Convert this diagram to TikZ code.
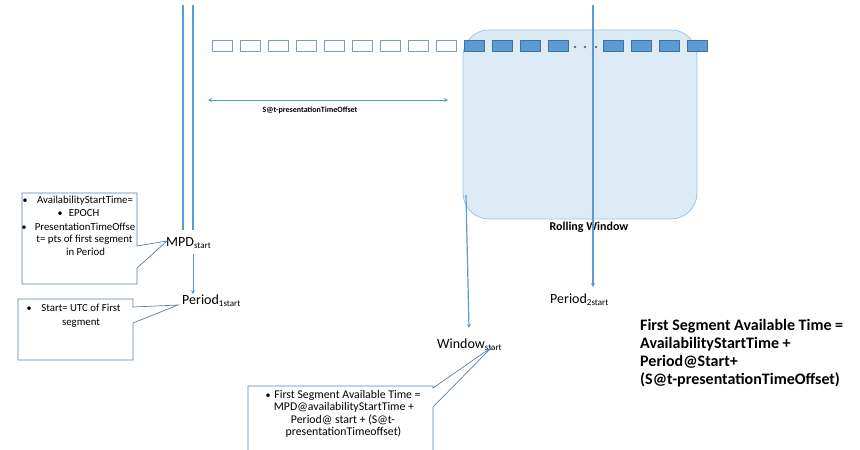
\documentclass[tikz,border=0pt]{standalone}
\usepackage{fontspec}
\setmainfont{Carlito}
\usetikzlibrary{arrows.meta}
\definecolor{lineblue}{HTML}{5B9BD5}
\definecolor{segedge}{HTML}{41719C}
\definecolor{emptyedge}{HTML}{7C9CC0}
\definecolor{winfill}{HTML}{DDEBF7}
\definecolor{winedge}{HTML}{9DC3E6}
\definecolor{calloutedge}{HTML}{5A7FAA}
\newcommand{\lowtxt}[1]{\raisebox{-2.5pt}{\fontsize{9}{9}\selectfont #1}}
\begin{document}
\begin{tikzpicture}[x=1pt,y=-1pt,
  blueline/.style={draw=lineblue,line width=1.2pt},
  tip/.style={-{Stealth[length=4pt,width=4pt]}},
  emptyseg/.style={draw=emptyedge,fill=white,line width=0.8pt,minimum width=20pt,minimum height=11pt,inner sep=0pt},
  fullseg/.style={draw=segedge,fill=lineblue,line width=0.8pt,minimum width=20pt,minimum height=11pt,inner sep=0pt},
  segdot/.style={circle,fill=segedge,inner sep=0pt,minimum size=2.6pt},
  label/.style={inner sep=0pt,anchor=base west,font=\fontsize{14}{16}\selectfont},
  callout/.style={draw=calloutedge,line width=0.7pt,fill=white},
  ctext/.style={inner sep=0pt,anchor=base,font=\fontsize{10.8}{13}\selectfont},
  ctextb/.style={inner sep=0pt,anchor=base,font=\fontsize{11.8}{13}\selectfont},
  bullet/.style={inner sep=0pt,anchor=base,font=\fontsize{10}{12}\selectfont},
  note/.style={inner sep=0pt,anchor=base west,font=\fontsize{16}{18}\selectfont\bfseries}]
\clip (0,0) rectangle (860,450);

% rolling window
\node[draw=winedge,fill=winfill,line width=0.8pt,rounded corners=26pt,
      minimum width=234pt,minimum height=189pt,inner sep=0pt] (win) at (580,124.5) {};
\node[inner sep=0pt,anchor=base,font=\fontsize{12}{14}\selectfont\bfseries] (rolling) at (589,230) {Rolling Window};

% segment row
\foreach \i in {0,...,8}{
  \node[emptyseg] (e\i) at (222+28*\i,46) {};
}
\foreach \i in {0,...,3}{
  \node[fullseg] (fa\i) at (474+28*\i,46) {};
  \node[fullseg] (fb\i) at (613+28*\i,46) {};
}
\node[segdot] (d1) at (575,47) {};
\node[segdot] (d2) at (585,47) {};
\node[segdot] (d3) at (596,47) {};

% offset arrow
\coordinate (offL) at (208,100);
\coordinate (offR) at (448,100);
\draw[blueline,line width=1pt,{Stealth[length=4pt,width=4pt]}-{Stealth[length=4pt,width=4pt]}] (offL) -- (offR);
\node[inner sep=0pt,anchor=base,font=\fontsize{8}{9}\selectfont\bfseries] (offlbl) at (310,112) {S@t-presentationTimeOffset};

% timeline labels
\node[label] (mpd) at (166,246) {MPD\lowtxt{start}};
\node[label] (p1) at (182,304) {Period\lowtxt{1start}};
\node[label] (p2) at (550,303) {Period\lowtxt{2start}};
\node[label] (ws) at (437,348) {Window\lowtxt{start}};

% vertical time markers
\coordinate (la) at (183,5);
\coordinate (lb) at (183,230);
\coordinate (ra) at (193,5);
\coordinate (rb) at (193,230);
\draw[blueline] (la) -- (lb);
\draw[blueline] (ra) -- (rb);
\coordinate (mp) at (193,254);
\draw[blueline,line width=1pt,tip] (mp) -- (p1.north -| mp);
\coordinate (p2top) at (593,5);
\draw[blueline,tip] (p2top) -- (593,287);
\coordinate (wtop) at (466,195);
\draw[blueline,tip] (wtop) -- (469,328);

% callout for MPD start
\draw[callout] (22,193) -- (137,193) -- (137,246) -- (167,241) -- (137,268) -- (137,284) -- (22,284) -- cycle;
\node[bullet] (b1) at (25,203.5) {•};
\node[ctext] (c1a) at (85,203.5) {AvailabilityStartTime=};
\node[bullet] (b2) at (60,216.5) {•};
\node[ctext] (c1b) at (84,216.5) {EPOCH};
\node[bullet] (b3) at (24,230.5) {•};
\node[ctext] (c1c) at (85,230.5) {PresentationTimeOffse};
\node[ctext] (c1d) at (84.5,242.5) {t= pts of first segment};
\node[ctext] (c1e) at (85.5,255.5) {in Period};

% callout for Period 1 start
\draw[callout] (18,299) -- (133,299) -- (133,307) -- (178,305) -- (133,323) -- (133,360) -- (18,360) -- cycle;
\node[bullet] (b4) at (29,311.5) {•};
\node[ctext] (c2a) at (81,311.5) {Start= UTC of First};
\node[ctext] (c2b) at (81,325.5) {segment};

% callout for window start
\draw[callout] (248,386) -- (433,386) -- (433,388) -- (492,347) -- (433,407) -- (433,460) -- (248,460) -- cycle;
\node[bullet] (b5) at (268,398) {•};
\node[ctextb] (c3a) at (347.5,398) {First Segment Available Time =};
\node[ctextb] (c3b) at (344,410.5) {MPD@availabilityStartTime +};
\node[ctextb] (c3c) at (343,423) {Period@ start + (S@t-};
\node[ctextb] (c3d) at (343.5,435.5) {presentationTimeoffset)};

% formula note
\node[note] (n1) at (640,330) {First Segment  Available Time =};
\node[note] (n2) at (640,348) {AvailabilityStartTime +};
\node[note] (n3) at (640,366) {Period@Start+};
\node[note] (n4) at (640,384) {(S@t-presentationTimeOffset)};
\end{tikzpicture}
\end{document}
